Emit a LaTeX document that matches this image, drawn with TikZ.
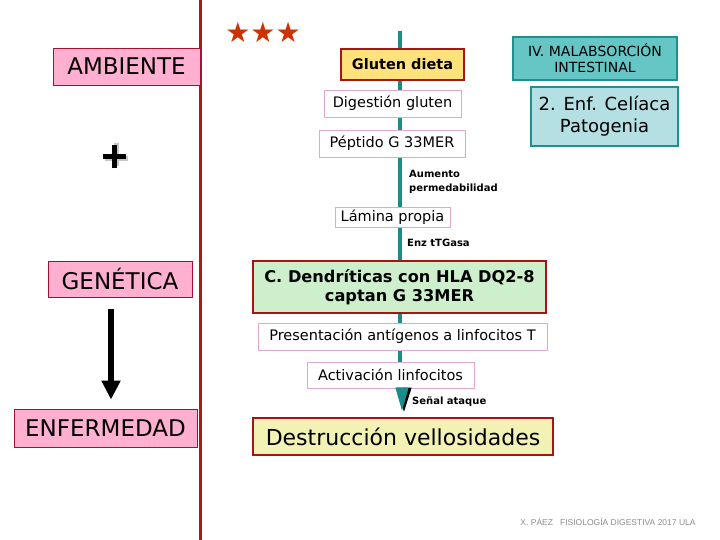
\documentclass[tikz,border=0pt]{standalone}
\usepackage{fontspec}
\setmainfont{DejaVu Sans}
\newfontfamily\footfont{Liberation Sans}
\usetikzlibrary{arrows.meta}
\pgfdeclarelayer{background}
\pgfsetlayers{background,main}
\definecolor{redline}{HTML}{B01818}
\definecolor{pinkfill}{HTML}{FFB0D0}
\definecolor{pinkedge}{HTML}{A01030}
\definecolor{lavedge}{HTML}{E0A8D0}
\definecolor{boxred}{HTML}{A81414}
\definecolor{goldfill}{HTML}{FFE27C}
\definecolor{greenfill}{HTML}{CDEFCB}
\definecolor{yellowfill}{HTML}{F2F2B4}
\definecolor{tealedge}{HTML}{1E9090}
\definecolor{tealfill}{HTML}{66C6C6}
\definecolor{cyanfill}{HTML}{B4E0E4}
\definecolor{spineteal}{HTML}{1A8C8C}
\definecolor{starred}{HTML}{CC3300}
\tikzset{
  pinkbox/.style={draw=pinkedge, line width=0.8pt, fill=pinkfill, inner sep=0pt,
    font=\fontsize{23}{26}\selectfont},
  thinbox/.style={draw=lavedge, line width=0.8pt, fill=white, inner sep=0pt,
    font=\fontsize{14.5}{17}\selectfont},
  redbox/.style={draw=boxred, line width=2.6pt, inner sep=0pt, align=center},
  tealbox/.style={draw=tealedge, line width=2.6pt, inner sep=0pt, align=center},
  smalllabel/.style={anchor=west, inner sep=0pt, align=left,
    font=\bfseries\fontsize{10}{14}\selectfont},
  spine/.style={line width=4pt, draw=spineteal},
  spineshadow/.style={line width=2.4pt, draw=black, xshift=3.2pt},
  plusbar/.style={line width=5pt},
}
\begin{document}
\begin{tikzpicture}[x=1pt,y=-1pt]
\useasboundingbox (0,0) rectangle (720,540);

% red divider
\coordinate (divtop) at (200,0);
\coordinate (divbot) at (200,540);
\draw[redline, line width=3pt] (divtop) -- (divbot);

% left column
\node[pinkbox, minimum width=147pt, minimum height=37pt] (ambiente) at (126.5,66.5) {AMBIENTE};
\coordinate (plus) at (114,157);
\draw[plusbar, black!22] ([xshift=-9.5pt,yshift=-2pt]plus) -- ([xshift=13.5pt,yshift=-2pt]plus)
  ([xshift=2pt,yshift=-9.5pt]plus) -- ([xshift=2pt,yshift=13.5pt]plus);
\draw[plusbar, black] ([xshift=-11.5pt]plus) -- ([xshift=11.5pt]plus)
  ([yshift=-11.5pt]plus) -- ([yshift=11.5pt]plus);
\node[pinkbox, minimum width=144pt, minimum height=36pt] (genetica) at (120,279) {GENÉTICA};
\node[pinkbox, minimum width=183pt, minimum height=38pt] (enfermedad) at (105.5,428) {ENFERMEDAD};
\coordinate (arrx) at (111,0);
\draw[line width=6.5pt, -{Triangle[width=18pt,length=19pt]}, shorten <=12pt, shorten >=9pt]
  (genetica.south -| arrx) -- (enfermedad.north -| arrx);

% stars
\node[text=starred, font=\fontsize{28}{28}\selectfont, inner sep=0pt] (stars) at (263,32) {★★★};

% right top boxes
\node[tealbox, fill=tealfill, minimum width=164pt, minimum height=43pt,
  font=\fontsize{14}{16}\selectfont] (malab) at (595,58.5) {IV. MALABSORCIÓN\\INTESTINAL};
\node[tealbox, fill=cyanfill, minimum width=147pt, minimum height=59pt,
  font=\fontsize{18}{22}\selectfont] (celiaca) at (604.5,116.5) {2. Enf. Celíaca\\Patogenia};

% central chain
\coordinate (spinetop) at (400,31);
\node[redbox, fill=goldfill, minimum width=123pt, minimum height=31pt,
  font=\bfseries\fontsize{14.5}{17}\selectfont] (gluten) at (402.5,64.5) {Gluten dieta};
\node[thinbox, minimum width=137pt, minimum height=27pt] (digest) at (392.5,103.5) {Digestión gluten};
\node[thinbox, minimum width=146pt, minimum height=27pt] (peptido) at (392,143.5) {Péptido G 33MER};
\node[smalllabel] (aumento) at (409,182) {Aumento\\permedabilidad};
\node[thinbox, minimum width=115pt, minimum height=20pt] (lamina) at (392.5,217) {Lámina propia};
\node[smalllabel] (enz) at (407,243) {Enz tTGasa};
\node[redbox, fill=greenfill, minimum width=293pt, minimum height=52pt,
  font=\bfseries\fontsize{16.2}{19}\selectfont] (dend) at (399.5,287) {C. Dendríticas con HLA DQ2-8\\captan G 33MER};
\node[thinbox, minimum width=289pt, minimum height=27pt] (present) at (402.5,336.5) {Presentación antígenos a linfocitos T};
\node[thinbox, minimum width=167pt, minimum height=26pt] (activ) at (390.5,375) {Activación linfocitos};
\node[smalllabel] (senal) at (412,402) {Señal ataque};
\node[redbox, fill=yellowfill, minimum width=300pt, minimum height=37pt,
  font=\fontsize{22}{25}\selectfont] (destru) at (403,436.5) {Destrucción vellosidades};

\begin{pgfonlayer}{background}
  \foreach \a/\b in {gluten/digest, digest/peptido, peptido/lamina, lamina/dend, dend/present, present/activ} {
    \draw[spineshadow] (\a.south -| spinetop) -- (\b.north -| spinetop);
    \draw[spine] (\a.south -| spinetop) -- (\b.north -| spinetop);
  }
  \draw[spineshadow] (spinetop) -- (gluten.north -| spinetop);
  \draw[spine] (spinetop) -- (gluten.north -| spinetop);
\end{pgfonlayer}
\coordinate (headx) at (402,0);
\draw[line width=1pt, draw=black, fill=black, -{Triangle[width=15pt,length=24pt,fill=black]}, shorten >=5pt]
  ([xshift=2pt]activ.south -| headx) -- ([xshift=2pt]destru.north -| headx);
\draw[line width=1pt, draw=spineteal, -{Triangle[width=13pt,length=23pt,fill=spineteal]}, shorten >=6pt]
  (activ.south -| headx) -- (destru.north -| headx);

% footer
\node[text=black!45, font=\footfont\fontsize{8.5}{10}\selectfont, inner sep=0pt] (footer) at (608,522)
  {X. PÁEZ \ \ FISIOLOGÍA DIGESTIVA 2017 ULA};
\end{tikzpicture}
\end{document}
